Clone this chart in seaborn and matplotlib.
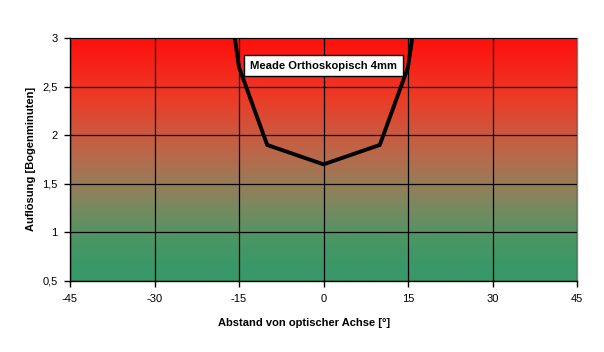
import numpy as np
import pandas as pd
import matplotlib
matplotlib.use("Agg")
import matplotlib.pyplot as plt
from matplotlib.colors import LinearSegmentedColormap
import seaborn as sns

# Data
winkel = [-16, -15, -10, 0, 10, 15, 16]          # Abstand von optischer Achse [°]
aufloesung = [3.1, 2.7, 1.9, 1.7, 1.9, 2.7, 3.1]  # Auflösung [Bogenminuten]
x_ticks = [-45, -30, -15, 0, 15, 30, 45]
y_ticks = [0.5, 1.0, 1.5, 2.0, 2.5, 3.0]
y_ticklabels = ["0,5", "1", "1,5", "2", "2,5", "3"]
label_text = "Meade Orthoskopisch 4mm"

sns.set_theme(style="white")
plt.rcParams['font.family'] = ['Liberation Sans', 'DejaVu Sans']

fig = plt.figure(figsize=(6.04, 3.52), dpi=100)
ax = fig.add_axes([70/604, 1-281/352, 507/604, 243/352])

# background gradient (top red -> bottom green)
stops = [(0.0, (55/255, 152/255, 104/255)),
         (0.06, (58/255, 152/255, 104/255)),
         (0.17, (75/255, 150/255, 100/255)),
         (0.33, (130/255, 135/255, 95/255)),
         (0.52, (185/255, 105/255, 75/255)),
         (0.75, (235/255, 60/255, 40/255)),
         (1.0, (255/255, 15/255, 12/255))]
cmap = LinearSegmentedColormap.from_list("rg", stops)
grad = np.linspace(0, 1, 256).reshape(-1, 1)
ax.imshow(grad, extent=[-45, 45, 0.5, 3.0], origin="lower", aspect="auto",
          cmap=cmap, zorder=0, interpolation="bilinear")

df = pd.DataFrame({"x": winkel, "y": aufloesung})
sns.lineplot(data=df, x="x", y="y", ax=ax, color="black", linewidth=2.8,
             sort=False, zorder=3, clip_on=True)

ax.set_xlim(-45, 45)
ax.set_ylim(0.5, 3.0)
ax.set_xticks(x_ticks)
ax.set_xticklabels([str(t) for t in x_ticks])
ax.set_yticks(y_ticks)
ax.set_yticklabels(y_ticklabels)
ax.grid(True, color="black", linewidth=0.9, zorder=1)
ax.set_axisbelow(False)
for gl in ax.get_xgridlines() + ax.get_ygridlines():
    gl.set_zorder(1)

ax.tick_params(axis="both", direction="out", length=4, width=1, color="black",
               labelsize=8, pad=5, bottom=True, left=True, labelcolor="black")
for side in ["top", "right"]:
    ax.spines[side].set_color("#808080")
    ax.spines[side].set_linewidth(1)
for side in ["left", "bottom"]:
    ax.spines[side].set_color("black")
    ax.spines[side].set_linewidth(1)

ax.set_xlabel("Abstand von optischer Achse [°]", fontsize=8, fontweight="bold",
              color="black")
ax.xaxis.set_label_coords((304 - 70) / 507, -(323 - 281) / 243 + 0.02)
ax.set_ylabel("Auflösung [Bogenminuten]", fontsize=8, fontweight="bold",
              color="black")
ax.yaxis.set_label_coords(-(70 - 36) / 507, (281 - 159) / 243)

ax.text(0, 2.717, label_text, ha="center", va="center", fontsize=8.1,
        fontweight="bold", color="black", zorder=5,
        bbox=dict(boxstyle="square,pad=0.5", facecolor="white",
                  edgecolor="black", linewidth=1))

fig.savefig("out.png", dpi=100)
